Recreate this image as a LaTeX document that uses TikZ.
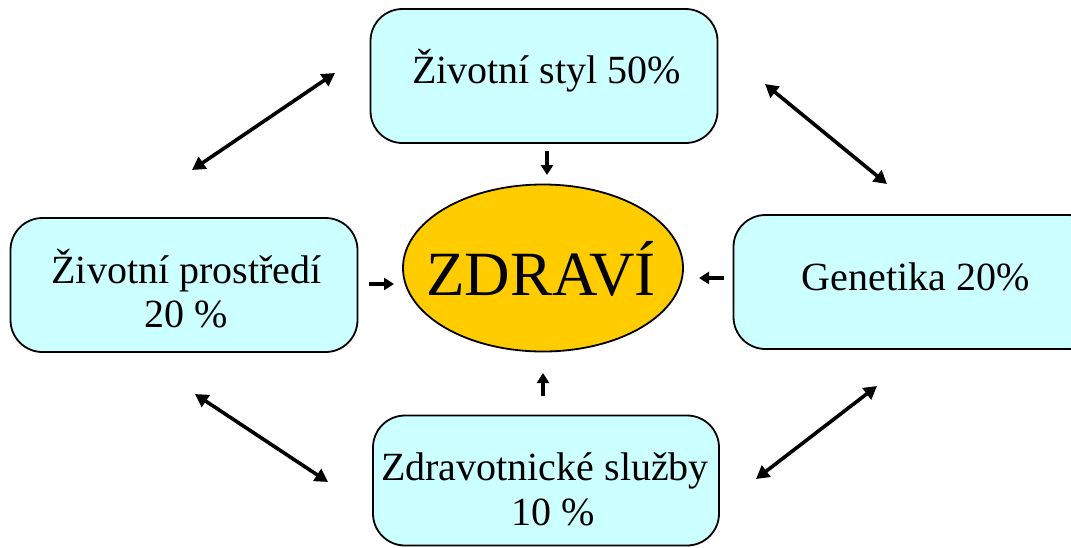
\documentclass[tikz,border=0pt]{standalone}
\usepackage{fontspec}
\setmainfont{Liberation Serif}
\usetikzlibrary{arrows.meta,shapes.geometric}
\definecolor{boxfill}{HTML}{CCFFFF}
\definecolor{healthfill}{HTML}{FFCC00}
\begin{document}
\begin{tikzpicture}[x=1pt,y=-1pt,
  factor/.style={draw=black,line width=1.8pt,fill=boxfill,rounded corners=32pt,inner sep=0pt},
  txt/.style={anchor=base,inner sep=0pt,font=\fontsize{40}{45}\selectfont},
  link/.style={line width=3.6pt,{Triangle[length=13pt,width=14pt]}-{Triangle[length=13pt,width=14pt]}},
  push/.style={line width=3.6pt,-{Triangle[length=10pt,width=12pt]}}]
\useasboundingbox (0,0) rectangle (1071,547);
\node[factor,minimum width=347pt,minimum height=134pt] (styl) at (544,76) {};
\node[factor,minimum width=347pt,minimum height=134pt] (prostr) at (184,285) {};
\node[factor,minimum width=367pt,minimum height=134pt] (gen) at (917,282) {};
\node[factor,minimum width=346pt,minimum height=130pt] (sluz) at (546,480.5) {};
\node[ellipse,draw=black,line width=1.8pt,fill=healthfill,minimum width=280pt,minimum height=167pt,
  inner sep=0pt] (zdravi) at (543,268) {};
\node[txt] (styltxt) at (546.5,83) {Životní styl 50\%};
\node[txt] (prostrtxt) at (186.5,283) {Životní prostředí};
\node[txt] (prostrpct) at (186.5,327) {20 \%};
\node[txt] (gentxt) at (915.5,290) {Genetika 20\%};
\node[txt] (sluztxt) at (545,480) {Zdravotnické služby};
\node[txt] (sluzpct) at (553,525) {10 \%};
\node[anchor=base,inner sep=0pt,font=\fontsize{63}{63}\selectfont] (zdravitxt) at (541,295) {ZDRAVÍ};
% small arrows into ZDRAVI
\coordinate (t1) at (547,151); \coordinate (t2) at (547,175);
\coordinate (b1) at (543,396); \coordinate (b2) at (543,373);
\coordinate (l1) at (369,284); \coordinate (l2) at (394,284);
\coordinate (r1) at (724,278); \coordinate (r2) at (699,278);
\draw[push] (t1) -- (t2);
\draw[push] (b1) -- (b2);
\draw[push] (l1) -- (l2);
\draw[push] (r1) -- (r2);
% diagonal links
\coordinate (tl1) at (192,170); \coordinate (tl2) at (335,73);
\coordinate (tr1) at (765,84); \coordinate (tr2) at (887,184);
\coordinate (bl1) at (195,394); \coordinate (bl2) at (328,482);
\coordinate (br1) at (756,479); \coordinate (br2) at (877,386);
\draw[link] (tl1) -- (tl2);
\draw[link] (tr1) -- (tr2);
\draw[link] (bl1) -- (bl2);
\draw[link] (br1) -- (br2);
\end{tikzpicture}
\end{document}
